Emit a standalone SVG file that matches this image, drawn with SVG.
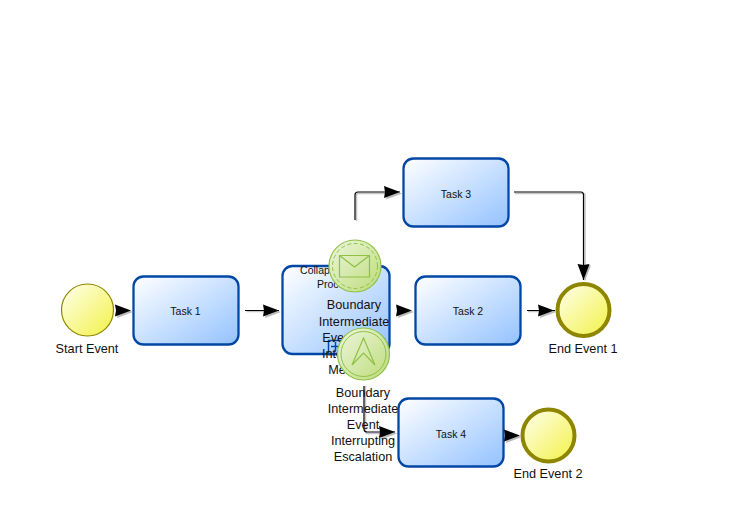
<svg xmlns="http://www.w3.org/2000/svg" width="744" height="520" viewBox="0 0 744 520">
<style>
.task{stroke:#0047a6;stroke-width:2.300;fill:url(#tg)}
.ev{fill:url(#yg)}
.start{stroke:#8f8600;stroke-width:1.200}
.end{stroke:#8f8600;stroke-width:4}
.bd{fill:url(#gg);stroke:#8fc145;stroke-width:1.200}
.bi{fill:none;stroke:#8fc145;stroke-width:1}
.t{font-family:"Liberation Sans",Arial,sans-serif;text-anchor:middle;fill:#111}
.s{font-size:10.500px}
.l{font-size:12.700px}
.c{fill:none;stroke:#000;stroke-width:1.200}
.cs{fill:none;stroke:#c4c4c4;stroke-width:1.500}
.a{fill:#000}
.as{fill:#bbb}
</style>
<defs>
<linearGradient id="tg" x1="0" y1="0" x2="1" y2="1"><stop offset="0" stop-color="#ffffff"/><stop offset="1" stop-color="#93c2ff"/></linearGradient>
<linearGradient id="yg" x1="0" y1="0" x2="1" y2="1"><stop offset="0" stop-color="#fffff0"/><stop offset="1" stop-color="#f2f244"/></linearGradient>
<linearGradient id="gg" x1="0" y1="0" x2="1" y2="1"><stop offset="0" stop-color="#eef6df"/><stop offset="1" stop-color="#bcdc78"/></linearGradient>
<path id="h" d="M0 0L-16 -6L-15 0L-16 6Z"/>
</defs>
<g id="collapsed"><rect class="task" x="282.500" y="266" width="107" height="88" rx="10"/><text class="t s" x="336" y="274">Collapsed Sub-</text><text class="t s" x="336" y="288">Process</text>
<rect x="328.500" y="340.500" width="14" height="14" fill="none" stroke="#0047a6" stroke-width="1.500"/><path d="M335.500 342V351M331 346.500H340" stroke="#0047a6" stroke-width="1.500" fill="none"/></g>
<g id="start"><circle class="ev start" cx="87.500" cy="310" r="26"/><text class="t l" x="87" y="353">Start Event</text></g>
<g id="task1"><rect class="task" x="133.500" y="276.500" width="105" height="68" rx="10"/><text class="t s" x="185.500" y="315">Task 1</text></g>
<g id="task2"><rect class="task" x="415.500" y="276.500" width="105" height="68" rx="10"/><text class="t s" x="468" y="315">Task 2</text></g>
<g id="task3"><rect class="task" x="403.500" y="158.500" width="105" height="68" rx="10"/><text class="t s" x="456" y="198">Task 3</text></g>
<g id="task4"><rect class="task" x="398.500" y="398.500" width="105" height="68" rx="10"/><text class="t s" x="451" y="438">Task 4</text></g>
<g id="end1"><circle class="ev end" cx="583.500" cy="310" r="26"/><text class="t l" x="583" y="353">End Event 1</text></g>
<g id="end2"><circle class="ev end" cx="548.500" cy="435.500" r="26"/><text class="t l" x="548" y="478">End Event 2</text></g>
<g id="connectors">
<path class="cs" d="M246.500 311.500H279M528 311.500H555M356.500 221V195Q356.500 193.500 358 193.500H400M515 193.500H583Q585 193.500 585 195V280M365.500 386V431Q365.500 433.500 368 433.500H395"/>
<path class="c" d="M245 310.500H279M527 310.500H555M355 220V195Q355 192 358 192H400M514 192H581Q583.500 192 583.500 195V280M364 386V429Q364 432 367 432H395"/>
<use class="as" href="#h" transform="translate(133 312)"/><use class="a" href="#h" transform="translate(131 310.500)"/>
<use class="as" href="#h" transform="translate(281 312)"/><use class="a" href="#h" transform="translate(279 310.500)"/>
<use class="as" href="#h" transform="translate(414 312)"/><use class="a" href="#h" transform="translate(412 310.500)"/>
<use class="as" href="#h" transform="translate(556 312)"/><use class="a" href="#h" transform="translate(554 310.500)"/>
<use class="as" href="#h" transform="translate(402 193.500)"/><use class="a" href="#h" transform="translate(400 192)"/>
<use class="as" href="#h" transform="translate(397 433.500)"/><use class="a" href="#h" transform="translate(395 432)"/>
<use class="as" href="#h" transform="translate(522 437)"/><use class="a" href="#h" transform="translate(520 435.500)"/>
<use class="as" href="#h" transform="translate(585 281) rotate(90)"/><use class="a" href="#h" transform="translate(583.500 280) rotate(90)"/>
</g>
<g id="boundary-message"><circle class="bd" cx="355" cy="266" r="26"/><circle class="bi" cx="355" cy="266" r="22.500" stroke-dasharray="4 2.500"/>
<path d="M339.500 255.500H369.500V277H339.500ZM339.500 255.500L354.500 267L369.500 255.500" fill="none" stroke="#8fc145" stroke-width="1.200"/>
<g class="t l"><text x="354" y="309">Boundary</text><text x="354" y="326">Intermediate</text><text x="354" y="342">Event Non-</text><text x="354" y="358">Interrupting</text><text x="354" y="374">Message</text></g></g>
<g id="boundary-escalation"><circle class="bd" cx="363.500" cy="354" r="26"/><circle class="bi" cx="363.500" cy="354" r="22.500"/>
<path d="M363.500 338L352 365L363.500 353L375 365Z" fill="none" stroke="#8fc145" stroke-width="1.200"/>
<g class="t l"><text x="363" y="397">Boundary</text><text x="363" y="413">Intermediate</text><text x="363" y="429">Event</text><text x="363" y="445">Interrupting</text><text x="363" y="461">Escalation</text></g></g>
</svg>
